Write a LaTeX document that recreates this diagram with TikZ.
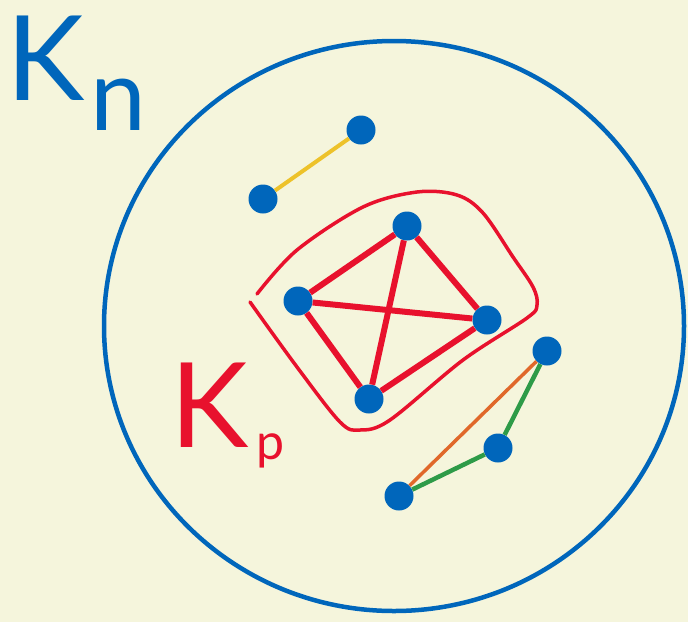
\documentclass[tikz,border=0pt]{standalone}
\usepackage{fontspec}
\setmainfont{Lato}
\usetikzlibrary{positioning}
\definecolor{fond}{HTML}{F5F5DC}
\definecolor{bleu}{HTML}{0066BB}
\definecolor{rouge}{HTML}{E8112D}
\definecolor{jaune}{HTML}{EDC22A}
\definecolor{orangec}{HTML}{E0682A}
\definecolor{vert}{HTML}{2E9B48}

\begin{document}
\begin{tikzpicture}[x=1pt, y=-1pt,
		sommet/.style={circle, fill=bleu, inner sep=0pt, minimum size=29pt},
		arete/.style={line width=6pt, rouge},
		titre/.style={inner sep=0pt, anchor=base west}]
		% Fond
		\fill[fond] (0,0) rectangle (688,622);
		
		% Grand cercle
		\draw[bleu, line width=4.5pt] (394,326) ellipse [x radius=290pt, y radius=285pt];
		
		% Etiquettes
		\node[titre, bleu, font=\fontsize{118}{120}\selectfont] (kn) at (6,100) {K};
		\node[titre, bleu, font=\fontsize{100}{100}\selectfont] (n) at ([xshift=6pt, yshift=-30pt]kn.base east) {n};
		\node[titre, rouge, font=\fontsize{118}{120}\selectfont] (kp) at (170,447) {K};
		\node[titre, rouge, font=\fontsize{50}{50}\selectfont] (p) at ([xshift=8pt, yshift=-12pt]kp.base east) {p};
		
		% Sommets
		\node[sommet] (u1) at (263,199) {};
		\node[sommet] (u2) at (361,130) {};
		\node[sommet] (a) at (407,226) {};
		\node[sommet] (b) at (298,301) {};
		\node[sommet] (c) at (487,320) {};
		\node[sommet] (d) at (369,399) {};
		\node[sommet] (v1) at (547,351) {};
		\node[sommet] (v2) at (498,448) {};
		\node[sommet] (v3) at (399,496) {};
		
		% Aretes
		\draw[jaune, line width=4pt] (u1) -- (u2);
		\draw[arete] (a) -- (b);
		\draw[arete] (a) -- (c);
		\draw[arete] (a) -- (d);
		\draw[arete] (b) -- (c);
		\draw[arete] (b) -- (d);
		\draw[arete] (c) -- (d);
		\draw[orangec, line width=3.5pt] (v3) -- (v1);
		\draw[vert, line width=4.5pt] (v1) -- (v2);
		\draw[vert, line width=4.5pt] (v2) -- (v3);
		
		% Contour de K_p
		\draw[rouge, line width=3.5pt, line cap=round] plot[smooth, tension=0.55] coordinates {(257,294) (297,250) (363,207) (417,192) (457,195) (483,213) (513,257) (533,287) (537,305) (527,318) (463,360) (390,420) (360,430) (340,422) (297,367) (250,302)};
	\end{tikzpicture}
\end{document}
